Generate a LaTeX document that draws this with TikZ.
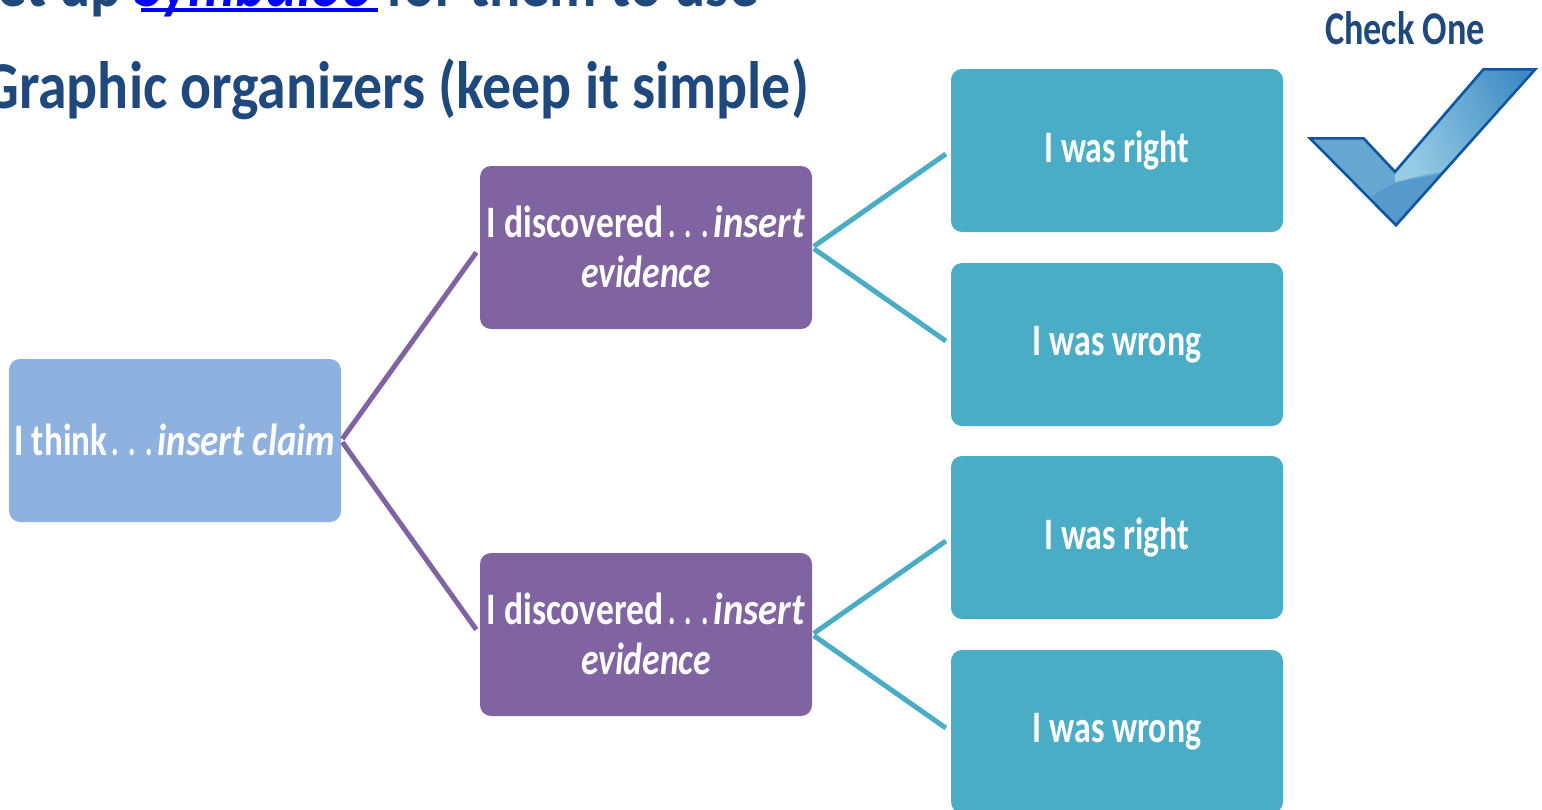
\documentclass[tikz,border=0pt]{standalone}
\usepackage{fontspec}
\setmainfont{Carlito}[BoldFont=Carlito Bold,BoldItalicFont=Carlito Bold Italic]
\definecolor{ink}{HTML}{1F497D}
\definecolor{purp}{HTML}{8064A2}
\definecolor{teal}{HTML}{4BACC6}
\definecolor{sky}{HTML}{8EB1E0}
\definecolor{tickedge}{HTML}{0F55A0}
\definecolor{tickmid}{HTML}{68A6D2}
\definecolor{ticklight}{HTML}{96CBE4}
\definecolor{tickdark}{HTML}{3F8CC4}
\tikzset{
  box/.style={rounded corners=11pt,minimum width=332pt,minimum height=163pt,inner sep=0pt,text=white,align=center,font=\bfseries\fontsize{45}{50}\selectfont},
  lead/.style={line width=5pt,shorten >=6pt,shorten <=2pt},
  head/.style={text=ink,inner sep=0pt,anchor=base west,font=\bfseries},
}
\newcommand{\sq}[2]{\scalebox{#1}[1]{#2}}
\newcommand{\sqlow}[1]{\raisebox{-2pt}{\scalebox{0.75}[1]{#1}}}
\newcommand{\spdots}{\,.\,\,.\,\,.\,}
\newcommand{\disc}{\sq{0.79}{I discovered}\sq{0.62}{\spdots}\sq{0.86}{\textit{insert}}}
\begin{document}
\begin{tikzpicture}[x=1pt,y=-1pt]
\useasboundingbox (0,0) rectangle (1542,809);
\clip (0,0) rectangle (1542,809);
\node[head,font=\bfseries\fontsize{67}{67}\selectfont] (topline) at (-3,6) {\sq{0.87}{et up \textcolor{blue}{\textit{Symbaloo}} for them to use}};
\fill[blue] (141,8) rectangle (378,12);
\node[head,font=\bfseries\fontsize{67}{67}\selectfont] (title) at (-18,108) {\sq{0.863}{Graphic organizers (keep it simple)}};
\node[head,font=\bfseries\fontsize{47}{47}\selectfont] (check) at (1325,44) {\sq{0.77}{Check One}};
\node[box,fill=sky] (claim) at (175,440.5) {\raisebox{1pt}{\sq{0.78}{I think}\sq{0.62}{\spdots}\sq{0.82}{\textit{insert claim}}}};
\node[box,fill=purp] (evA) at (646,247.5) {\raisebox{2pt}{\disc}\\[-1pt]\raisebox{1pt}{\sq{0.79}{\textit{evidence}}}};
\node[box,fill=purp] (evB) at (646,634.5) {\raisebox{2pt}{\disc}\\[-1pt]\raisebox{1pt}{\sq{0.79}{\textit{evidence}}}};
\node[box,fill=teal] (r1) at (1117,150.5) {\sqlow{I was right}};
\node[box,fill=teal] (w1) at (1117,344.5) {\sqlow{I was wrong}};
\node[box,fill=teal] (r2) at (1117,537.5) {\sqlow{I was right}};
\node[box,fill=teal] (w2) at (1117,731.5) {\sqlow{I was wrong}};
\draw[lead,purp] (claim.east) -- (evA.west);
\draw[lead,purp] (claim.east) -- (evB.west);
\draw[lead,teal] (evA.east) -- (r1.west);
\draw[lead,teal] (evA.east) -- (w1.west);
\draw[lead,teal] (evB.east) -- (r2.west);
\draw[lead,teal] (evB.east) -- (w2.west);
% check mark
\begin{scope}
\clip (1538,68) -- (1483,68) -- (1395,170) -- (1364,137) -- (1307,137) -- (1396,227) -- cycle;
\fill[tickmid] (1300,60) rectangle (1542,230);
\shade[left color=ticklight,right color=tickdark,shading angle=115] (1395,168) -- (1483,66) -- (1540,66) -- (1440,174) -- (1395,182) -- cycle;
\fill[tickdark,opacity=.45] (1372,197) .. controls (1390,182) and (1415,176) .. (1442,172) -- (1400,232) -- cycle;
\draw[tickedge,line width=5pt,line join=miter] (1538,68) -- (1483,68) -- (1395,170) -- (1364,137) -- (1307,137) -- (1396,227) -- cycle;
\end{scope}
\end{tikzpicture}
\end{document}
